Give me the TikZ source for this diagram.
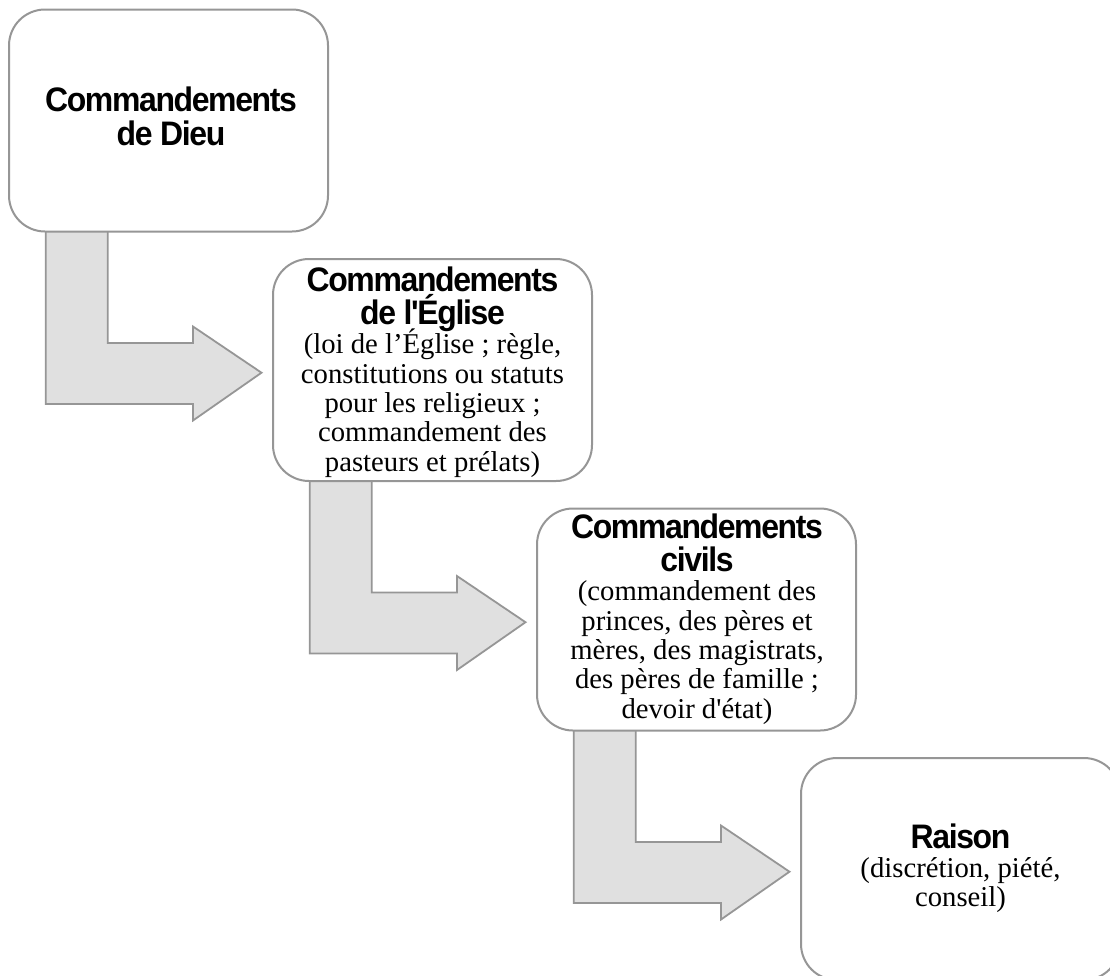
\documentclass[tikz,border=0pt]{standalone}
\usepackage{fontspec}
\setmainfont{Liberation Serif}[Ligatures=TeXOff]
\newfontfamily\titlefam{Liberation Sans}[FakeStretch=0.94,LetterSpace=-4,Ligatures=TeXOff]
\usetikzlibrary{calc}
\pgfdeclarelayer{bg}
\pgfsetlayers{bg,main}
\definecolor{edgegray}{RGB}{150,150,150}
\definecolor{arrowfill}{RGB}{224,224,224}
\newcommand\titlef{\titlefam\bfseries\fontsize{34}{33.3}\selectfont}
\newcommand\bodyf{\rmfamily\mdseries\fontsize{28.7}{29.3}\selectfont}
\newcommand\boxtext[1]{\parbox[t]{330pt}{\lineskiplimit=-100pt\centering #1\par}}
\newcommand\stairarrow[2]{%
  \begin{pgfonlayer}{bg}
  \draw[stairs]
    ($(#1.south west)+(37.7,-3)$) coordinate (#1s1)
    -- ($(#1.south west)+(37.7,171.5)$)
    -- ($(#1.south west)+(185,171.5)$)
    -- ($(#1.south west)+(185,188)$)
    -- ($(#2.west)+(-10.5,2.7)$) coordinate (#1tip)
    -- ($(#1.south west)+(185,94)$)
    -- ($(#1.south west)+(185,110.5)$)
    -- ($(#1.south west)+(99.7,110.5)$)
    -- ($(#1.south west)+(99.7,-3)$)
    -- cycle;
  \end{pgfonlayer}}
\begin{document}
\begin{tikzpicture}[x=1pt,y=-1pt,
  box/.style={draw=edgegray, line width=2pt, fill=white, rounded corners=36pt,
    minimum width=319pt, minimum height=222pt, inner sep=0pt},
  stairs/.style={draw=edgegray, line width=1.8pt, fill=arrowfill, line join=miter},
  txt/.style={inner sep=0pt, anchor=base}]
\useasboundingbox (0,0) rectangle (1110,975);
\clip (0,0) rectangle (1110,975);
\node[box] (b1) at (168.5,120.5) {};
\node[box] (b2) at (432.5,370) {};
\node[box] (b3) at (696.5,619.5) {};
\node[box] (b4) at (960.5,869) {};
\stairarrow{b1}{b2}
\stairarrow{b2}{b3}
\stairarrow{b3}{b4}
\node[txt] (t1) at (171,111.7) {\boxtext{\titlef Commandements\\de Dieu}};
\node[txt] (t2) at (432.5,291.3) {\boxtext{\titlef Commandements\\de l'Église\par
  \bodyf (loi de l’Église ; règle,\\constitutions ou statuts\\pour les religieux ;\\commandement des\\pasteurs et prélats)}};
\node[txt] (t3) at (697,538.3) {\boxtext{\titlef Commandements\\civils\par
  \bodyf (commandement des\\princes, des pères et\\mères, des magistrats,\\des pères de famille ;\\devoir d'état)}};
\node[txt] (t4) at (960.5,848.3) {\boxtext{\titlef Raison\par
  \bodyf (discrétion, piété,\\conseil)}};
\end{tikzpicture}
\end{document}
